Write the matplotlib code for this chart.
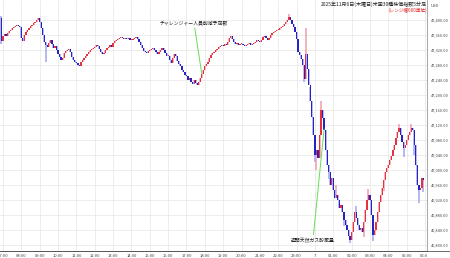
import numpy as np
import matplotlib.pyplot as plt
from matplotlib.transforms import Bbox, TransformedBbox
from matplotlib.lines import Line2D

plt.rcParams['font.family'] = ['Noto Sans CJK JP', 'DejaVu Sans']

# Dow 5-minute bars, Nov 6 07:00 -> Nov 7 05:55 (one row per hour)
first_bar = (47405, 47345)  # 06:55 bar: open, close
close_rows = [
    [47357, 47363, 47357, 47365, 47371, 47373, 47379, 47381, 47384, 47387, 47384, 47381],  # 07
    [47352, 47344, 47360, 47368, 47373, 47379, 47384, 47387, 47392, 47395, 47400, 47405],  # 08
    [47395, 47379, 47360, 47341, 47333, 47328, 47339, 47347, 47336, 47325, 47331, 47320],  # 09
    [47309, 47301, 47293, 47299, 47312, 47317, 47320, 47323, 47315, 47301, 47293, 47288],  # 10
    [47285, 47280, 47277, 47288, 47293, 47299, 47304, 47309, 47315, 47320, 47323, 47325],  # 11
    [47328, 47333, 47331, 47323, 47315, 47309, 47312, 47320, 47325, 47328, 47333, 47328],  # 12
    [47339, 47344, 47347, 47349, 47352, 47355, 47352, 47349, 47352, 47349, 47352, 47347],  # 13
    [47347, 47349, 47352, 47355, 47349, 47341, 47333, 47325, 47317, 47315, 47312, 47317],  # 14
    [47320, 47323, 47325, 47320, 47315, 47309, 47315, 47320, 47325, 47320, 47312, 47304],  # 15
    [47304, 47293, 47285, 47299, 47309, 47304, 47291, 47283, 47277, 47267, 47261, 47253],  # 16
    [47251, 47240, 47245, 47235, 47229, 47240, 47232, 47227, 47235, 47245, 47256, 47267],  # 17
    [47277, 47283, 47288, 47299, 47307, 47312, 47315, 47320, 47323, 47328, 47331, 47333],  # 18
    [47331, 47336, 47333, 47341, 47352, 47357, 47349, 47341, 47336, 47339, 47333, 47336],  # 19
    [47336, 47333, 47331, 47333, 47336, 47339, 47333, 47336, 47339, 47341, 47347, 47344],  # 20
    [47341, 47347, 47355, 47357, 47352, 47347, 47352, 47360, 47365, 47368, 47371, 47373],  # 21
    [47373, 47379, 47381, 47384, 47389, 47395, 47400, 47408, 47400, 47389, 47381, 47368],  # 22
    [47349, 47315, 47307, 47296, 47280, 47243, 47309, 47269, 47227, 47184, 47141, 47093],  # 23
    [47040, 47053, 47032, 47093, 47160, 47139, 47107, 47053, 47013, 46995, 46960, 46979],  # 00
    [46947, 46925, 46933, 46920, 46899, 46907, 46888, 46867, 46853, 46840, 46824, 46813],  # 01
    [46835, 46861, 46888, 46872, 46853, 46840, 46845, 46835, 46861, 46893, 46920, 46933],  # 02
    [46920, 46880, 46827, 46840, 46861, 46888, 46915, 46933, 46952, 46973, 46995, 47005],  # 03
    [47013, 47027, 47037, 47053, 47067, 47085, 47101, 47112, 47093, 47075, 47059, 47067],  # 04
    [47080, 47093, 47101, 47112, 47107, 47067, 47013, 46960, 46947, 46952, 46979, 46973],  # 05
]
# wick extremes that reach past the bodies (bar number, 0 = 06:55)
wick_highs = {0: 47410, 188: 47415, 199: 47379, 202: 47220, 209: 47184, 219: 46960,
              232: 46905, 240: 46950, 260: 47123, 268: 47123}
wick_lows = {0: 47335, 29: 47288, 198: 47235, 205: 47020, 206: 47000, 214: 46975,
             224: 46850, 228: 46805, 237: 46820, 243: 46810, 250: 46945, 263: 47035,
             270: 47040, 273: 46912, 276: 46940}

hour_labels = ['07:00', '08:00', '09:00', '10:00', '11:00', '12:00', '13:00', '14:00',
               '15:00', '16:00', '17:00', '18:00', '19:00', '20:00', '21:00', '22:00',
               '23:00', '7', '01:00', '02:00', '03:00', '04:00', '05:00', '06:00']
price_ticks = np.arange(46800, 47401, 40)

events = [('チャレンジャー人員削減予定数', 131), ('週間天然ガス貯蔵量', 211)]

closes = np.array([first_bar[1]] + [c for row in close_rows for c in row], dtype=float)
opens = np.r_[first_bar[0], closes[:-1]]
highs = np.maximum(opens, closes)
lows = np.minimum(opens, closes)
for n, v in wick_highs.items():
    highs[n] = v
for n, v in wick_lows.items():
    lows[n] = v
x = np.arange(len(closes)) - 1

fig = plt.figure(figsize=(4.5, 2.58), dpi=100)
ax = fig.add_axes([0, 7 / 258, 427 / 450, 251 / 258])

up = closes >= opens
dn = ~up
ax.vlines(x[up], lows[up], highs[up], color='#f2a6b0', lw=1.2, zorder=2)
ax.vlines(x[dn], lows[dn], highs[dn], color='#aaaaf0', lw=1.2, zorder=2)
body = np.maximum(np.abs(closes - opens), 2.5)
bottom = np.minimum(opens, closes)
ax.bar(x[up], body[up], bottom=bottom[up], width=0.8, color='#e8303e', lw=0, zorder=3)
ax.bar(x[dn], body[dn], bottom=bottom[dn], width=0.8, color='#2424c4', lw=0, zorder=3)

ax.set_xlim(-1.96, 277.3)
ax.set_ylim(46784, 47453)
ax.set_xticks(np.arange(len(hour_labels)) * 12)
ax.set_xticklabels(hour_labels)
ax.set_yticks(price_ticks)
ax.set_yticklabels(['{:,.2f}'.format(p) for p in price_ticks])
ax.yaxis.tick_right()
ax.tick_params(axis='x', length=0, pad=2, labelsize=3, labelcolor='#444444')
ax.tick_params(axis='y', length=0, pad=3, labelsize=2.8, labelcolor='#444444')
ax.grid(True, color='#e6e6e6', lw=0.5, zorder=0)
ax.set_axisbelow(True)
for s in ['top', 'left']:
    ax.spines[s].set_visible(False)
ax.spines['right'].set_color('#999999')
ax.spines['right'].set_linewidth(0.6)
ax.spines['bottom'].set_color('#555555')
ax.spines['bottom'].set_linewidth(0.6)
fig.add_artist(Line2D([0, 1], [7 / 258, 7 / 258], transform=fig.transFigure,
                      color='#555555', lw=0.6))

clip = TransformedBbox(Bbox([[0, 0], [427 / 450, 1]]), fig.transFigure)
for lbl in ax.get_xticklabels():
    lbl.set_clip_box(clip)
    lbl.set_clip_on(True)

# event notes
green = '#66dd55'
(t1, n1), (t2, n2) = events
ax.annotate(t1, xy=(x[n1], highs[n1]), xytext=(124.9, 47392), textcoords='data',
            fontsize=3.5, ha='center', va='center', color='#222222',
            arrowprops=dict(arrowstyle='-', color=green, lw=0.7, shrinkA=0, shrinkB=0))
ax.annotate(t2, xy=(x[n2], highs[n2] - 30), xytext=(202.7, 46813), textcoords='data',
            fontsize=3.5, ha='center', va='center', color='#222222',
            arrowprops=dict(arrowstyle='-', color=green, lw=0.7, shrinkA=0, shrinkB=0))

fig.text(427 / 450, 1 - 4 / 258, '2025年11月6日(木曜日)米国30種株価指数5分足',
         fontsize=3.6, ha='right', va='center', color='#222222')
fig.text(427 / 450, 1 - 10.5 / 258, '(レンジ幅600単位)',
         fontsize=3.3, ha='right', va='center', color='#dd2222')
fig.text(431 / 450, 1 - 6 / 258, 'USD', fontsize=3, ha='left', va='center', color='#444444')

fig.savefig('out.png', dpi=100)
